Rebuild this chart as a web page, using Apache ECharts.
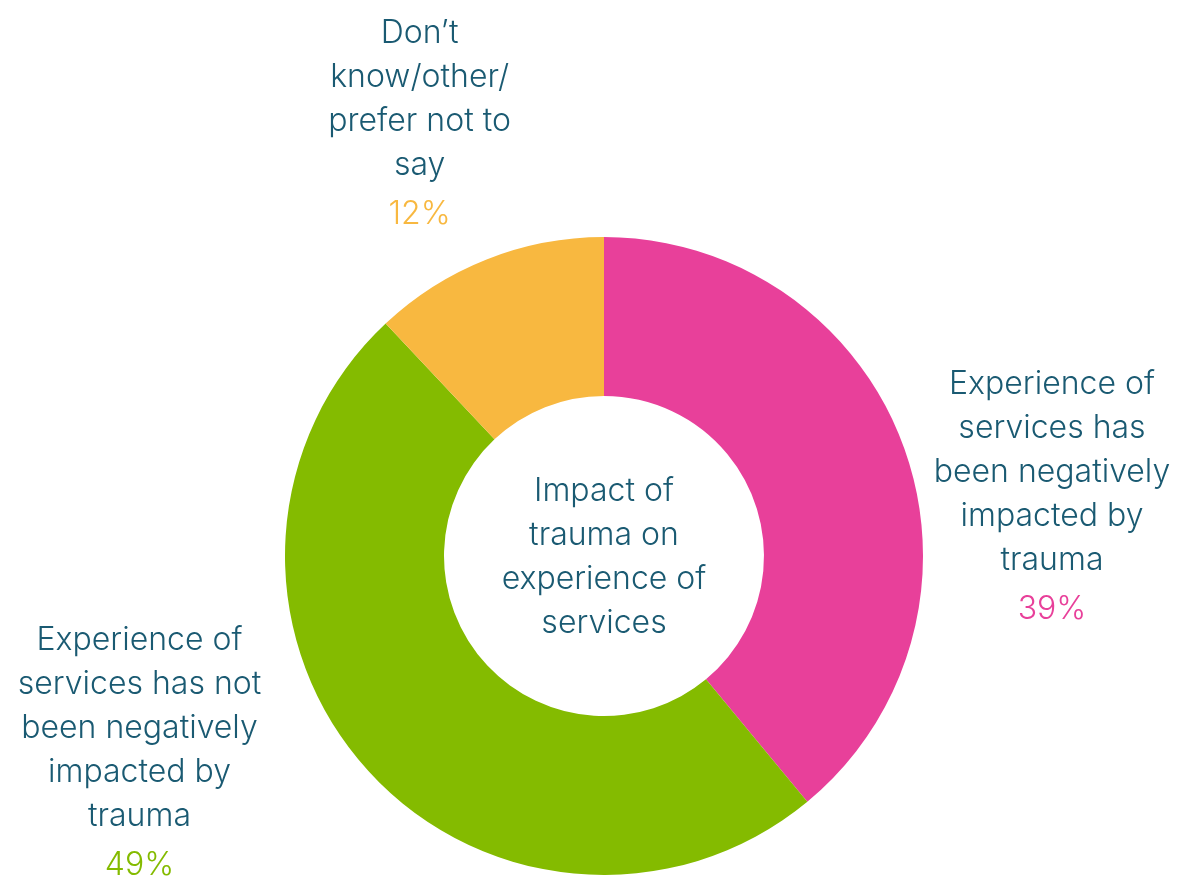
<!DOCTYPE html>
<html>
<head>
<meta charset="utf-8">
<script src="https://cdn.jsdelivr.net/npm/echarts@6/dist/echarts.min.js"></script>
<style>
html,body{margin:0;padding:0;background:#fff;}
#chart{width:1182px;height:876px;}
</style>
</head>
<body>
<div id="chart"></div>
<script>
const categories = [
  "Experience of\nservices has\nbeen negatively\nimpacted by\ntrauma",
  "Experience of\nservices has not\nbeen negatively\nimpacted by\ntrauma",
  "Don\u2019t\nknow/other/\nprefer not to\nsay"
];
const values = [39, 49, 12];
const colors = ["#E8409A", "#84BB00", "#F8B840"];
const centerTitle = "Impact of\ntrauma on\nexperience of\nservices";
// label anchor (fraction of chart width/height)
const labelAnchors = [[0.890, 0.570], [0.118, 0.862], [0.355, 0.144]];

const textColor = "#1A5A72";
const fontFamily = "Inter";
const fontSize = 32;
const fontWeight = 300;

const chart = echarts.init(document.getElementById('chart'), null, {renderer: 'canvas'});
const W = 1182, H = 876;

const data = categories.map((c, i) => ({
  name: c,
  value: values[i],
  itemStyle: {color: colors[i]},
  label: {
    rich: {
      t: {color: textColor, fontSize: fontSize, fontFamily: fontFamily, fontWeight: fontWeight, lineHeight: 44, align: 'center'},
      p: {color: colors[i], fontSize: fontSize, fontFamily: fontFamily, fontWeight: fontWeight, lineHeight: 54, align: 'center'}
    }
  }
}));

chart.setOption({
  backgroundColor: '#ffffff',
  animation: false,
  graphic: [{
    type: 'text',
    style: {
      text: centerTitle,
      fill: textColor,
      font: fontWeight + ' ' + fontSize + 'px ' + fontFamily,
      lineHeight: 44,
      align: 'center',
      verticalAlign: 'middle',
      x: 604, y: 557
    },
    x: 0, y: 0
  }],
  series: [{
    type: 'pie',
    center: [604, 556],
    radius: [160, 319],
    startAngle: 90,
    clockwise: true,
    silent: true,
    data: data,
    label: {
      show: true,
      position: 'outside',
      overflow: 'none',
      formatter: p => '{t|' + p.name.split('\n').join('}\n{t|') + '}\n{p|' + p.value + '%}',
      align: 'center'
    },
    labelLine: {show: false},
    labelLayout: function (params) {
      const a = labelAnchors[params.dataIndex];
      return {x: a[0] * W, y: a[1] * H, align: 'center', verticalAlign: 'middle'};
    }
  }]
});
</script>
</body>
</html>
